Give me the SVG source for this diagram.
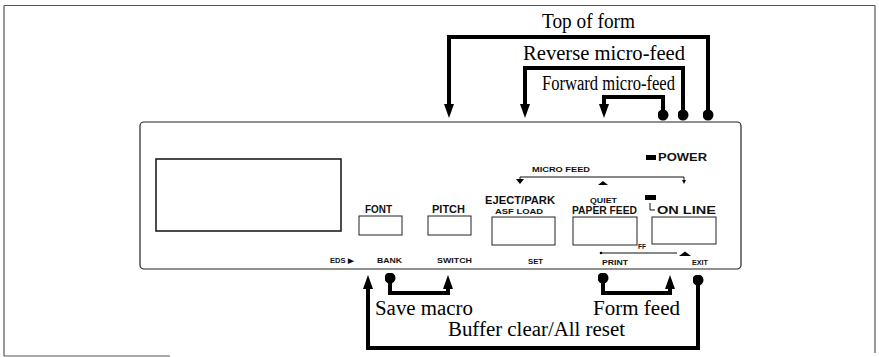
<svg xmlns="http://www.w3.org/2000/svg" width="879" height="357" viewBox="0 0 879 357">
<style>
.frame{fill:none;stroke:#555;stroke-width:1.2}
.panel{fill:none;stroke:#222;stroke-width:1.2}
.btn{fill:#fff;stroke:#222;stroke-width:1}
.lbl{font-family:"Liberation Sans",Arial,sans-serif;font-weight:bold;font-size:10px;fill:#111}
.sm{font-family:"Liberation Sans",Arial,sans-serif;font-weight:bold;font-size:7px;fill:#111}
.cap{font-family:"Liberation Serif","Times New Roman",serif;font-size:20px;fill:#000}
.conn{fill:none;stroke:#000;stroke-width:4}
.thin{fill:none;stroke:#111;stroke-width:1}
</style>
<defs>
<marker id="arr" markerUnits="userSpaceOnUse" viewBox="0 0 14 10" refX="0" refY="5" markerWidth="14" markerHeight="10" orient="auto"><path d="M0,0 L14,5 L0,10 z" fill="#000"/></marker>
<marker id="dot" markerUnits="userSpaceOnUse" viewBox="0 0 11 11" refX="5.5" refY="5.5" markerWidth="11" markerHeight="11"><circle cx="5.5" cy="5.5" r="5.5" fill="#000"/></marker>
</defs>

<g id="page-frame">
<path class="frame" d="M4,5.5 H875 M4,5.5 V356 M4,356 H170 M875,5.5 V353"/>
</g>

<g id="panel">
<rect class="panel" x="140" y="122" width="601" height="147" rx="4"/>
</g>

<g id="display">
<rect x="156" y="159" width="185" height="72" fill="#fff" stroke="#111" stroke-width="1.5"/>
</g>

<g id="power">
<rect x="646" y="155" width="10" height="5" fill="#000"/>
<text class="lbl" x="658" y="161" textLength="49" lengthAdjust="spacingAndGlyphs">POWER</text>
</g>

<g id="micro-feed">
<text class="sm" x="532" y="172" textLength="58" lengthAdjust="spacingAndGlyphs">MICRO FEED</text>
<path class="thin" d="M520,177 H684 M520,177 V180 M684,177 V181"/>
<polygon points="516,179 524,179 520,184" fill="#000"/>
<polygon points="598,185 608,185 603,181" fill="#000"/>
<polygon points="682,180 686,180 684,184" fill="#000"/>
</g>

<g id="btn-font">
<text class="lbl" x="365" y="213" textLength="27" lengthAdjust="spacingAndGlyphs">FONT</text>
<rect class="btn" x="359" y="216" width="43" height="19"/>
<text class="sm" x="377" y="263" textLength="25" lengthAdjust="spacingAndGlyphs">BANK</text>
</g>

<g id="btn-pitch">
<text class="lbl" x="432" y="213" textLength="33" lengthAdjust="spacingAndGlyphs">PITCH</text>
<rect class="btn" x="428" y="216" width="43" height="19"/>
<text class="sm" x="437" y="263" textLength="35" lengthAdjust="spacingAndGlyphs">SWITCH</text>
</g>

<g id="eds">
<text class="sm" x="330" y="263" textLength="23" lengthAdjust="spacingAndGlyphs">EDS ▶</text>
</g>

<g id="btn-eject">
<text class="lbl" x="485" y="204" textLength="70" lengthAdjust="spacingAndGlyphs">EJECT/PARK</text>
<text class="sm" x="495" y="214" font-size="7.5" textLength="48" lengthAdjust="spacingAndGlyphs">ASF LOAD</text>
<rect class="btn" x="492" y="217" width="63" height="28"/>
<text class="sm" x="528" y="264" textLength="15" lengthAdjust="spacingAndGlyphs">SET</text>
</g>

<g id="btn-paperfeed">
<text class="sm" x="590" y="203" textLength="27" lengthAdjust="spacingAndGlyphs">QUIET</text>
<text class="lbl" x="572" y="214" textLength="65" lengthAdjust="spacingAndGlyphs">PAPER FEED</text>
<rect class="btn" x="573" y="217" width="64" height="28"/>
<text class="sm" x="602" y="265" textLength="26" lengthAdjust="spacingAndGlyphs">PRINT</text>
</g>

<g id="btn-online">
<rect x="645" y="195" width="11" height="5" fill="#000"/>
<path class="thin" d="M650,203 V210 H655"/>
<text class="lbl" x="657" y="214" textLength="59" lengthAdjust="spacingAndGlyphs">ON LINE</text>
<rect class="btn" x="652" y="217" width="64" height="27"/>
<text class="sm" x="638" y="249" textLength="8" lengthAdjust="spacingAndGlyphs">FF</text>
<path class="thin" d="M600,253 H677"/>
<circle cx="601" cy="253" r="1.3" fill="#000"/>
<polygon points="679,256 691,256 685,251.5" fill="#000"/>
<text class="sm" x="692" y="265" textLength="16" lengthAdjust="spacingAndGlyphs">EXIT</text>
</g>

<g id="connectors">
<path class="conn" d="M708,115 V37 H449 V104" marker-start="url(#dot)" marker-end="url(#arr)"/>
<path class="conn" d="M683,115 V68 H525 V104" marker-start="url(#dot)" marker-end="url(#arr)"/>
<path class="conn" d="M663,115 V97 H604 V104" marker-start="url(#dot)" marker-end="url(#arr)"/>
<path class="conn" d="M698,280 V348 H368 V289" marker-start="url(#dot)" marker-end="url(#arr)"/>
<path class="conn" d="M390,278 V293 H448 V289" marker-start="url(#dot)" marker-end="url(#arr)"/>
<path class="conn" d="M603,278 V293 H670 V289" marker-start="url(#dot)" marker-end="url(#arr)"/>
</g>

<g id="labels">
<text class="cap" x="542" y="28" textLength="93" lengthAdjust="spacingAndGlyphs">Top of form</text>
<text class="cap" x="523" y="60" textLength="162" lengthAdjust="spacingAndGlyphs">Reverse micro-feed</text>
<text class="cap" x="542" y="90" font-size="18" textLength="133" lengthAdjust="spacingAndGlyphs">Forward micro-feed</text>
<text class="cap" x="375" y="315" textLength="98" lengthAdjust="spacingAndGlyphs">Save macro</text>
<text class="cap" x="593" y="315" textLength="87" lengthAdjust="spacingAndGlyphs">Form feed</text>
<text class="cap" x="448" y="336" textLength="177" lengthAdjust="spacingAndGlyphs">Buffer clear/All reset</text>
</g>
</svg>
